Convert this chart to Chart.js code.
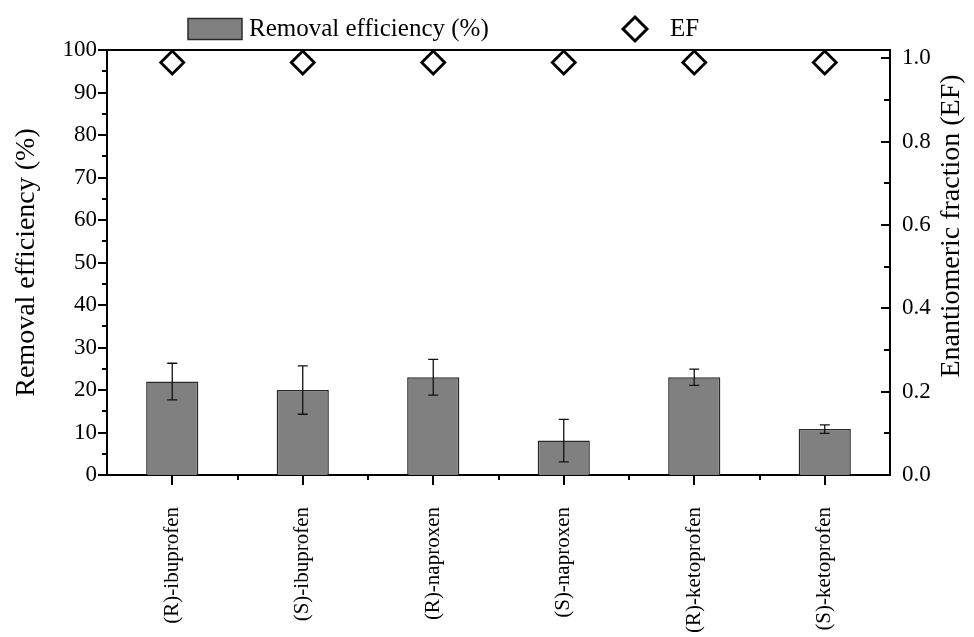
<!DOCTYPE html>
<html>
<head>
<meta charset="utf-8">
<script src="https://cdn.jsdelivr.net/npm/chart.js@4.4.1/dist/chart.umd.min.js"></script>
<style>
  body { margin: 0; background: #fff; }
  #chart { display: block; }
</style>
</head>
<body>
<canvas id="chart" width="974" height="637"></canvas>
<script>
// values
const compounds = ["(R)-ibuprofen", "(S)-ibuprofen", "(R)-naproxen", "(S)-naproxen", "(R)-ketoprofen", "(S)-ketoprofen"];
const removal = [22.0, 20.0, 23.0, 8.1, 23.0, 10.8];
const removalErr = [4.3, 5.7, 4.2, 5.0, 1.9, 1.0];
const ef = [0.99, 0.99, 0.99, 0.99, 0.99, 0.99];
const leftTicks = [0, 5, 10, 15, 20, 25, 30, 35, 40, 45, 50, 55, 60, 65, 70, 75, 80, 85, 90, 95, 100];
const rightTicks = [0, 0.1, 0.2, 0.3, 0.4, 0.5, 0.6, 0.7, 0.8, 0.9, 1.0];

const serif = "'Liberation Serif', 'Times New Roman', serif";

// error bars on the removal bars
const errorBars = {
  id: "errorBars",
  afterDatasetsDraw(chart) {
    const {ctx, scales} = chart;
    const meta = chart.getDatasetMeta(0);
    ctx.save();
    ctx.strokeStyle = "#111";
    ctx.lineWidth = 1.3;
    ctx.beginPath();
    meta.data.forEach((bar, i) => {
      const x = bar.x;
      const yt = scales.y.getPixelForValue(removal[i] + removalErr[i]);
      const yb = scales.y.getPixelForValue(removal[i] - removalErr[i]);
      ctx.moveTo(x, yt); ctx.lineTo(x, yb);
      ctx.moveTo(x - 5, yt); ctx.lineTo(x + 5, yt);
      ctx.moveTo(x - 5, yb); ctx.lineTo(x + 5, yb);
    });
    ctx.stroke();
    ctx.restore();
  }
};

// frame top line, tick marks (major/minor), legend row, right title
const decorations = {
  id: "decorations",
  afterDraw(chart) {
    const {ctx, chartArea: a, scales} = chart;
    ctx.save();
    ctx.strokeStyle = "#000";
    ctx.lineWidth = 2;
    ctx.beginPath();
    ctx.moveTo(a.left - 1, a.top); ctx.lineTo(a.right + 1, a.top);
    leftTicks.forEach(v => {
      const y = Math.round(scales.y.getPixelForValue(v));
      const len = v % 10 === 0 ? 9 : 5;
      ctx.moveTo(a.left - len, y); ctx.lineTo(a.left, y);
    });
    rightTicks.forEach(v => {
      const y = Math.round(scales.y1.getPixelForValue(v));
      const len = Math.round(v * 10) % 2 === 0 ? 9 : 6;
      ctx.moveTo(a.right - len, y); ctx.lineTo(a.right, y);
    });
    compounds.forEach((c, i) => {
      const x = Math.round(scales.x.getPixelForValue(i));
      ctx.moveTo(x, a.bottom); ctx.lineTo(x, a.bottom + 10);
      if (i > 0) {
        const xb = Math.round((scales.x.getPixelForValue(i) + scales.x.getPixelForValue(i - 1)) / 2);
        ctx.moveTo(xb, a.bottom); ctx.lineTo(xb, a.bottom + 5);
      }
    });
    ctx.stroke();

    // legend
    const bar = chart.data.datasets[0];
    const pts = chart.data.datasets[1];
    const cy = 29;
    const bx = a.left + 81;
    ctx.fillStyle = bar.backgroundColor;
    ctx.fillRect(bx, cy - 10.5, 54, 21);
    ctx.strokeStyle = bar.borderColor;
    ctx.lineWidth = 1.5;
    ctx.strokeRect(bx, cy - 10.5, 54, 21);
    ctx.font = "25px " + serif;
    ctx.fillStyle = "#000";
    ctx.textBaseline = "middle";
    ctx.textAlign = "left";
    ctx.fillText(bar.label, bx + 61, cy);
    const dx = a.left + 528;
    ctx.fillStyle = "#fff";
    ctx.strokeStyle = "#000";
    ctx.lineWidth = 3;
    Chart.helpers.drawPoint(ctx, {pointStyle: "rectRot", radius: 12, borderWidth: 3}, dx, cy);
    ctx.fillStyle = "#000";
    ctx.fillText(pts.label, dx + 35, cy);

    // right axis title, reading bottom to top
    ctx.translate(952, 226);
    ctx.rotate(-Math.PI / 2);
    ctx.textAlign = "center";
    ctx.font = "28px " + serif;
    ctx.fillText("Enantiomeric fraction (EF)", 0, 0);
    ctx.restore();
  }
};

new Chart(document.getElementById("chart"), {
  data: {
    labels: compounds,
    datasets: [
      {
        type: "bar",
        label: "Removal efficiency (%)",
        data: removal,
        yAxisID: "y",
        backgroundColor: "#808080",
        borderColor: "#2a2a2a",
        borderWidth: 1.5,
        barPercentage: 0.4,
        categoryPercentage: 1.0,
        order: 2
      },
      {
        type: "line",
        label: "EF",
        data: ef,
        yAxisID: "y1",
        showLine: false,
        pointStyle: "rectRot",
        pointRadius: 11.5,
        pointBorderWidth: 2.8,
        pointBorderColor: "#000",
        pointBackgroundColor: "#fff",
        order: 1
      }
    ]
  },
  options: {
    responsive: false,
    animation: false,
    layout: { padding: { top: 50, left: 0, right: 0, bottom: 0 } },
    plugins: {
      legend: { display: false },
      tooltip: { enabled: false }
    },
    scales: {
      x: {
        type: "category",
        offset: true,
        grid: { display: false, drawTicks: false },
        border: { color: "#000", width: 2 },
        ticks: {
          color: "#000",
          font: { family: serif, size: 21 },
          minRotation: 90,
          maxRotation: 90,
          autoSkip: false,
          padding: 32
        },
        afterFit: s => { s.height = 162; }
      },
      y: {
        position: "left",
        min: 0,
        max: 100,
        afterBuildTicks: s => { s.ticks = leftTicks.map(v => ({ value: v })); },
        grid: { display: false, drawTicks: false },
        border: { color: "#000", width: 2 },
        ticks: {
          color: "#000",
          font: { family: serif, size: 23 },
          padding: 10,
          callback: v => (v % 10 === 0 ? v : "")
        },
        title: {
          display: true,
          text: "Removal efficiency (%)",
          color: "#000",
          font: { family: serif, size: 28 },
          padding: { top: 10, bottom: 0 }
        },
        afterFit: s => { s.width = 107; }
      },
      y1: {
        position: "right",
        min: 0,
        max: 1.02,
        afterBuildTicks: s => { s.ticks = rightTicks.map(v => ({ value: v })); },
        grid: { display: false, drawTicks: false },
        border: { color: "#000", width: 2 },
        ticks: {
          color: "#000",
          font: { family: serif, size: 23 },
          padding: 12,
          callback: v => (Math.round(v * 10) % 2 === 0 ? v.toFixed(1) : "")
        },
        afterFit: s => { s.width = 84; }
      }
    }
  },
  plugins: [errorBars, decorations]
});
</script>
</body>
</html>
